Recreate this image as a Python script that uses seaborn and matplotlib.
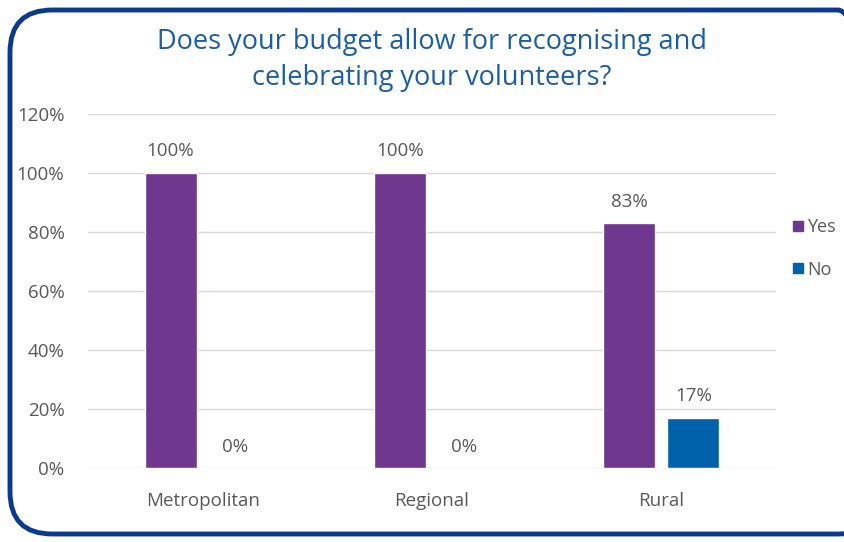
import matplotlib
matplotlib.use("Agg")
import matplotlib.pyplot as plt
import seaborn as sns
import pandas as pd
from matplotlib.patches import FancyBboxPatch
from matplotlib.lines import Line2D

# Survey responses by region
regions = ["Metropolitan", "Regional", "Rural"]
answers = ["Yes", "No"]
yes_share = [1.00, 1.00, 0.83]
no_share = [0.00, 0.00, 0.17]
y_ticks = [0.0, 0.2, 0.4, 0.6, 0.8, 1.0, 1.2]
y_tick_labels = ["0%", "20%", "40%", "60%", "80%", "100%", "120%"]
title = "Does your budget allow for recognising and\ncelebrating your volunteers?"

df = pd.DataFrame({
    "Region": regions * 2,
    "Answer": [answers[0]] * 3 + [answers[1]] * 3,
    "Share": yes_share + no_share,
})

sns.set_theme(style="white")
plt.rcParams["font.family"] = ["Open Sans", "DejaVu Sans"]

palette = {"Yes": "#6f378d", "No": "#0063aa"}
text_grey = "#595959"

fig = plt.figure(figsize=(8.45, 5.42), dpi=100)
ax = fig.add_axes([88 / 845, 74 / 542, 688 / 845, 354 / 542])

sns.barplot(data=df, x="Region", y="Share", hue="Answer", order=regions,
            hue_order=answers, palette=palette, width=0.56, gap=0.19,
            saturation=1, ax=ax, legend=False, zorder=3)

ax.set_xlim(-0.5, 2.5)
ax.set_ylim(0, 1.2)
ax.set_yticks(y_ticks)
ax.set_yticklabels(y_tick_labels)
ax.yaxis.grid(True, color="#d9d9d9", linewidth=1, zorder=0)
ax.set_axisbelow(True)
for s in ax.spines.values():
    s.set_visible(False)
ax.tick_params(axis="both", length=0, colors=text_grey, labelsize=13.5)
ax.tick_params(axis="y", pad=17)
ax.tick_params(axis="x", pad=17)
ax.set_xlabel("")
ax.set_ylabel("")

for container in ax.containers:
    ax.bar_label(container, labels=[f"{v * 100:.0f}%" for v in container.datavalues],
                 padding=9, color=text_grey, fontsize=13.5)

fig.text(432 / 845, 1 - 60 / 542, title, ha="center", va="center",
         fontsize=19.5, color="#1b5ea6", linespacing=1.42)

handles = [Line2D([], [], marker="s", linestyle="none", markersize=7.5,
                  markerfacecolor=palette[a], markeredgecolor=palette[a])
           for a in answers]
fig.legend(handles, answers, loc="upper left", bbox_to_anchor=(782 / 845, 1 - 211 / 542),
           frameon=False, fontsize=13, labelcolor=text_grey, handletextpad=0.0,
           labelspacing=1.35, handlelength=1.0, borderaxespad=0)

border = FancyBboxPatch((10 / 845, 8 / 542), 870 / 845, 524 / 542,
                        boxstyle="round,pad=0,rounding_size=0.05",
                        transform=fig.transFigure, facecolor="none",
                        edgecolor="#0a3a8f", linewidth=3.5,
                        mutation_aspect=845 / 542, clip_on=False)
fig.patches.append(border)

fig.savefig("out.png", dpi=100)
